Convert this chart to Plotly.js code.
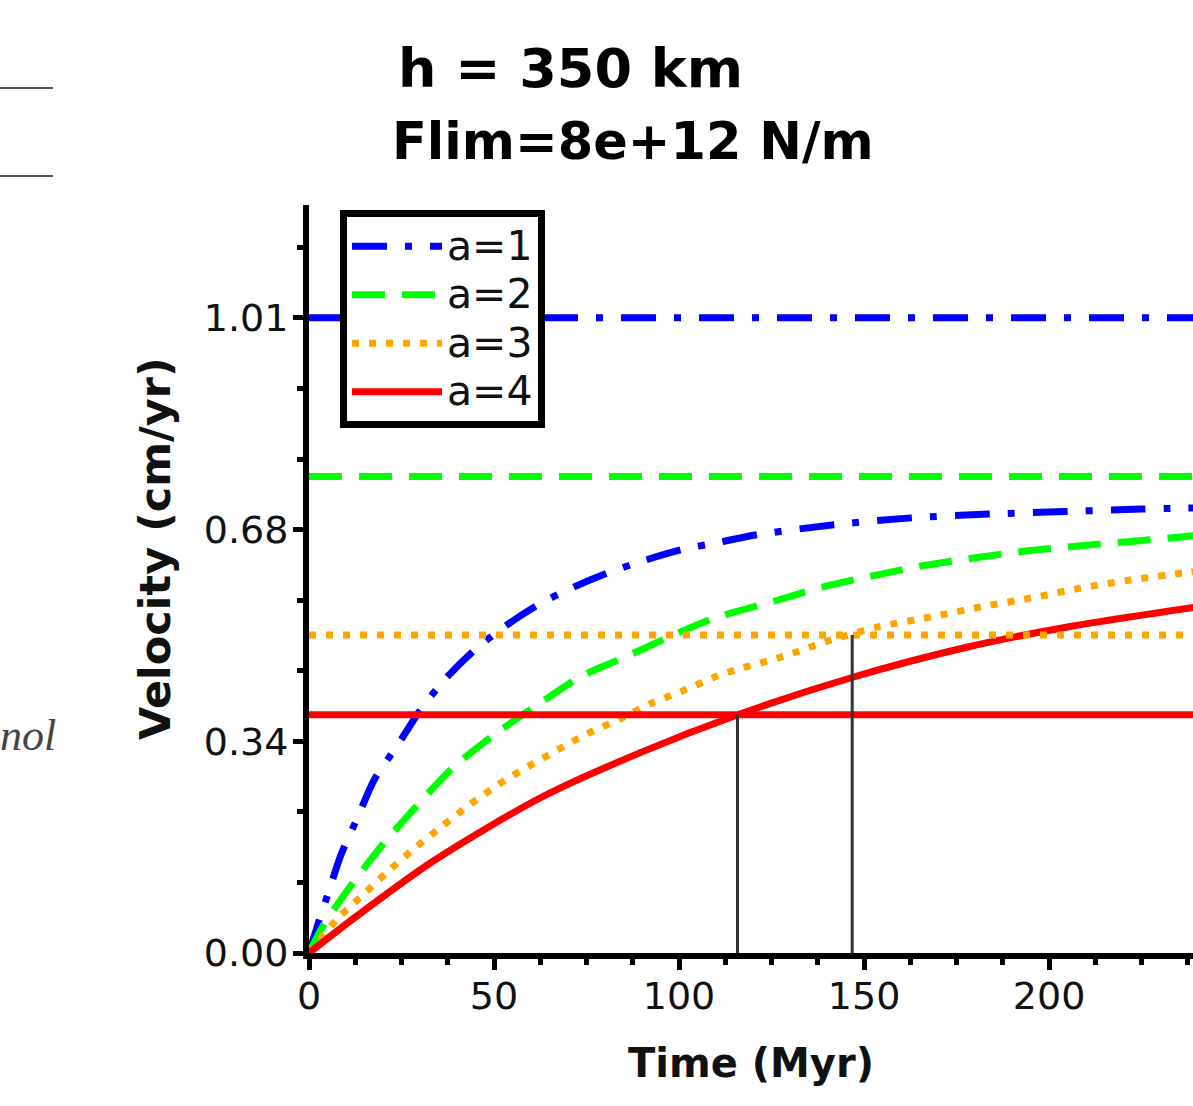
<!DOCTYPE html>
<html>
<head>
<meta charset="utf-8">
<script src="https://cdn.plot.ly/plotly-3.0.1.min.js"></script>
<style>
  html, body { margin: 0; padding: 0; background: #fff; }
  #chart { width: 1193px; height: 1106px; }
</style>
</head>
<body>
<div id="chart"></div>
<script>
// ---- data ----
const seriesNames = ['a=1', 'a=2', 'a=3', 'a=4'];
const seriesColors = ['#0000ff', '#00ff00', '#ffa500', '#ff0000'];

const timeA1 = [0, 2.8, 5.0, 8.6, 13.2, 17.6, 24.0, 29.8, 36.5, 44.7, 52.7, 61.8, 71.3, 80.7, 90.6, 100.5, 110.8, 121, 141.9, 162.7, 183.5, 204, 224.9, 240];
const velA1  = [0, 0.053, 0.092, 0.156, 0.217, 0.276, 0.332, 0.385, 0.435, 0.483, 0.520, 0.555, 0.583, 0.606, 0.626, 0.643, 0.655, 0.667, 0.683, 0.694, 0.700, 0.704, 0.708, 0.710];

const timeA2 = [0, 3.7, 10.4, 19.5, 28.9, 38.8, 50.5, 61.8, 73.5, 86.6, 99.6, 109.5, 125.7, 139, 152.7, 166.2, 179.7, 193.8, 207.8, 221.4, 234.9, 240];
const velA2  = [0, 0.042, 0.100, 0.170, 0.233, 0.295, 0.350, 0.396, 0.441, 0.475, 0.510, 0.534, 0.561, 0.584, 0.602, 0.618, 0.630, 0.641, 0.649, 0.656, 0.663, 0.666];

const timeA3 = [0, 7.7, 14.1, 21.3, 28.5, 35.7, 43.3, 51, 59.1, 67.2, 75.3, 84.3, 92.4, 101.4, 110, 115, 127.6, 141, 153.8, 168, 181.6, 195, 208.6, 222, 236, 240];
const velA3  = [0, 0.055, 0.090, 0.130, 0.167, 0.201, 0.236, 0.268, 0.297, 0.324, 0.350, 0.374, 0.398, 0.419, 0.441, 0.451, 0.472, 0.499, 0.520, 0.536, 0.552, 0.566, 0.582, 0.595, 0.606, 0.609];

const timeA4 = [0, 12.7, 33.4, 62.7, 89.7, 115.9, 146.5, 178, 205, 240];
const velA4  = [0, 0.058, 0.146, 0.248, 0.320, 0.380, 0.439, 0.488, 0.520, 0.552];

// steady-state (horizontal) velocities per series
const steadyVel = [1.013, 0.760, 0.507, 0.380];
const steadyTimeSpan = [0, 245];

// vertical marker lines (time, top velocity)
const markerTimes = [115.8, 146.8];
const markerTops  = [0.380, 0.507];

// axis ticks
const xTickVals = [0, 50, 100, 150, 200];
const yTickVals = [0, 0.3377, 0.6753, 1.013];
const yTickText = ['0.00', '0.34', '0.68', '1.01'];

const titleLine1 = 'h = 350 km';
const titleLine2 = 'Flim=8e+12 N/m';
const xTitle = 'Time (Myr)';
const yTitle = 'Velocity (cm/yr)';

// ---- styles ----
const dashes = ['35px,18px,7px,18px', '33px,17px', '7px,10px', 'solid'];
const lineW = 7;

const times = [timeA1, timeA2, timeA3, timeA4];
const vels = [velA1, velA2, velA3, velA4];

const traces = [];
for (let i = 0; i < 4; i++) {
  traces.push({
    type: 'scatter', mode: 'lines',
    name: '<span style="font-size:41px">' + seriesNames[i] + '</span>',
    x: times[i], y: vels[i],
    line: { color: seriesColors[i], width: lineW, dash: dashes[i], shape: 'spline', smoothing: 0.8 },
    showlegend: true, hoverinfo: 'skip'
  });
}
for (let i = 0; i < 4; i++) {
  traces.push({
    type: 'scatter', mode: 'lines',
    x: steadyTimeSpan, y: [steadyVel[i], steadyVel[i]],
    line: { color: seriesColors[i], width: lineW, dash: dashes[i] },
    showlegend: false, hoverinfo: 'skip'
  });
}
for (let k = 0; k < markerTimes.length; k++) {
  traces.push({
    type: 'scatter', mode: 'lines',
    x: [markerTimes[k], markerTimes[k]], y: [0, markerTops[k]],
    line: { color: '#333333', width: 3 },
    showlegend: false, hoverinfo: 'skip'
  });
}

const W = 1193, H = 1106;
const mL = 309, mR = 0, mT = 205, mB = 153;
const plotW = W - mL - mR, plotH = H - mT - mB;
const px2paperX = p => (p - mL) / plotW;
const px2paperY = p => (H - mB - p) / plotH;

const fam = 'DejaVu Sans, Verdana, sans-serif';

const layout = {
  width: W, height: H,
  margin: { l: mL, r: mR, t: mT, b: mB, pad: 0 },
  paper_bgcolor: '#ffffff', plot_bgcolor: '#ffffff',
  showlegend: true,
  legend: {
    x: px2paperX(340), y: px2paperY(210), xanchor: 'left', yanchor: 'top',
    bgcolor: '#ffffff', bordercolor: '#000000', borderwidth: 7,
    font: { family: fam, size: 35, color: '#111111' },
    itemwidth: 90, tracegroupgap: 0
  },
  xaxis: {
    range: [0, 238.9], showgrid: false, zeroline: false,
    showline: true, linecolor: '#000000', linewidth: 6,
    ticks: 'outside', ticklen: 11, tickwidth: 5, tickcolor: '#000000',
    tickmode: 'array', tickvals: xTickVals,
    tickfont: { family: fam, size: 38, color: '#111111' },
    ticklabelstandoff: -7,
    minor: { tickmode: 'linear', tick0: 0, dtick: 12.5, ticks: 'outside', ticklen: 6, tickwidth: 5, tickcolor: '#000000', showgrid: false },
    title: { text: xTitle, font: { family: fam, size: 40, color: '#111111', weight: 'bold' }, standoff: 34 }
  },
  yaxis: {
    range: [0, 1.193], showgrid: false, zeroline: false,
    showline: true, linecolor: '#000000', linewidth: 6,
    ticks: 'outside', ticklen: 10, tickwidth: 5, tickcolor: '#000000',
    tickmode: 'array', tickvals: yTickVals, ticktext: yTickText,
    tickfont: { family: fam, size: 38, color: '#111111' },
    ticklabelstandoff: -3,
    minor: { tickmode: 'linear', tick0: 0, dtick: 1.013 / 9, ticks: 'outside', ticklen: 6, tickwidth: 5, tickcolor: '#000000', showgrid: false },
    title: { text: '' }
  },
  annotations: [
    { text: titleLine1, xref: 'paper', yref: 'paper', x: px2paperX(396), y: px2paperY(68),
      xanchor: 'left', yanchor: 'middle', showarrow: false,
      font: { family: fam, size: 54, color: '#000000', weight: 'bold' } },
    { text: titleLine2, xref: 'paper', yref: 'paper', x: px2paperX(390), y: px2paperY(141),
      xanchor: 'left', yanchor: 'middle', showarrow: false,
      font: { family: fam, size: 51, color: '#000000', weight: 'bold' } },
    { text: yTitle, xref: 'paper', yref: 'paper', x: px2paperX(155), y: px2paperY(549),
      xanchor: 'center', yanchor: 'middle', textangle: -90, showarrow: false,
      font: { family: fam, size: 43, color: '#111111', weight: 'bold' } },
    { text: 'nol', xref: 'paper', yref: 'paper', x: px2paperX(-2), y: px2paperY(735),
      xanchor: 'left', yanchor: 'middle', showarrow: false,
      font: { family: 'Liberation Serif, serif', size: 44, color: '#444444', style: 'italic' } }
  ],
  shapes: [
    { type: 'line', xref: 'paper', yref: 'paper', x0: px2paperX(0), x1: px2paperX(53), y0: px2paperY(88), y1: px2paperY(88),
      line: { color: '#555555', width: 2 } },
    { type: 'line', xref: 'paper', yref: 'paper', x0: px2paperX(0), x1: px2paperX(53), y0: px2paperY(176), y1: px2paperY(176),
      line: { color: '#555555', width: 2 } }
  ]
};

Plotly.newPlot('chart', traces, layout, { staticPlot: true, displayModeBar: false });
</script>
</body>
</html>
